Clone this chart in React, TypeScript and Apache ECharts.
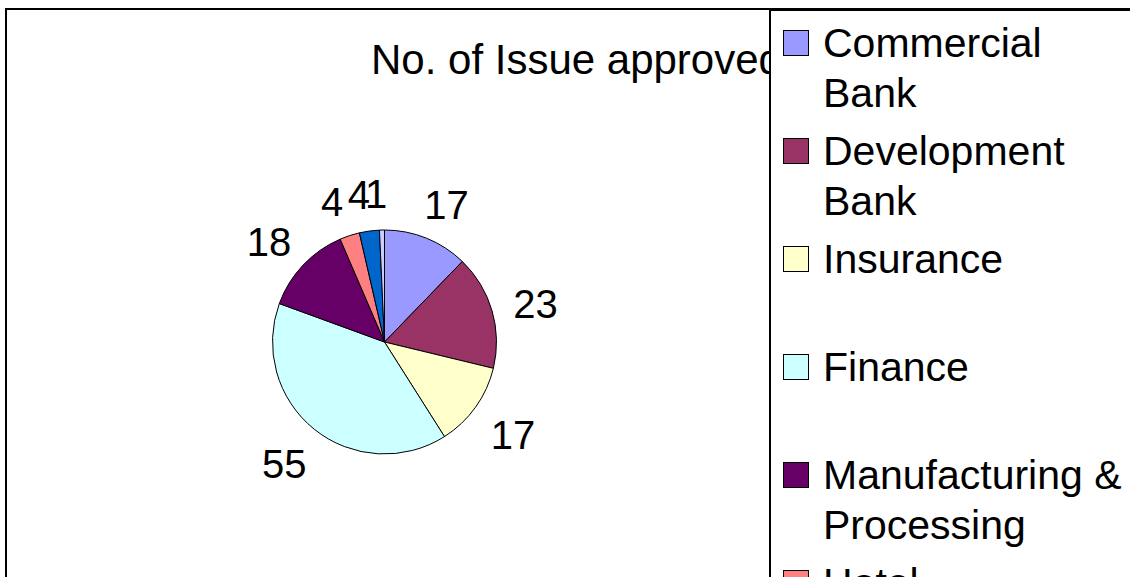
import React, { useEffect, useRef } from "react";
import * as echarts from "echarts";

const titleText = "No. of Issue approved";
const categories = [
  "Commercial Bank",
  "Development Bank",
  "Insurance",
  "Finance",
  "Manufacturing & Processing",
  "Hotel",
  "Trading",
  "Others",
];
const legendLabels = [
  "Commercial\nBank",
  "Development\nBank",
  "Insurance",
  "Finance",
  "Manufacturing &\nProcessing",
  "Hotel",
  "Trading",
  "Others",
];
const values = [17, 23, 17, 55, 18, 4, 4, 1];
const colors = ["#9999FF", "#993366", "#FFFFCC", "#CCFFFF", "#660066", "#FF8080", "#0066CC", "#CCCCFF"];

const FONT = "'Liberation Sans', Arial, sans-serif";

export default function App() {
  const ref = useRef<HTMLDivElement>(null);
  useEffect(() => {
    document.body.style.margin = "0";
    if (!ref.current) return;
    const chart = echarts.init(ref.current, null, { renderer: "svg" });
    const rich: Record<string, any> = {
      g: { width: 15, height: 24 },
      s: { width: 39, height: 24 },
      t: { fontSize: 41, fontFamily: FONT, color: "#000", lineHeight: 50 },
    };
    colors.forEach((c, i) => {
      rich["m" + i] = {
        width: 24,
        height: 24,
        backgroundColor: c,
        borderColor: "#000",
        borderWidth: 1,
      };
    });
    const data = categories.map((name, i) => ({
      name,
      value: values[i],
      itemStyle: { color: colors[i] },
    }));
    chart.setOption({
      animation: false,
      title: {
        text: titleText,
        left: 371,
        top: 38,
        padding: 0,
        z: 1,
        textStyle: {
          fontSize: 42,
          fontFamily: FONT,
          fontWeight: "normal",
          color: "#000",
          lineHeight: 42,
        },
      },
      legend: {
        orient: "vertical",
        left: 770,
        top: 10,
        height: 1200,
        z: 20,
        padding: [8, 40, 8, 8],
        itemGap: 8,
        itemWidth: 0,
        itemHeight: 0,
        backgroundColor: "#fff",
        borderColor: "#000",
        borderWidth: 2,
        borderRadius: 0,
        selectedMode: false,
        data: categories,
        formatter: (name: string) => {
          const i = categories.indexOf(name);
          const lines = legendLabels[i].split("\n");
          const first = `{m${i}|}{g|}{t|${lines[0]}}`;
          const second = lines.length > 1 ? `{s|}{t|${lines[1]}}` : `{s|}{t| }`;
          return first + "\n" + second;
        },
        textStyle: { rich, fontSize: 41, fontFamily: FONT, color: "#000", lineHeight: 50 },
      },
      graphic: [
        {
          type: "rect",
          z: 30,
          silent: true,
          shape: { x: 6, y: 9, width: 1400, height: 800 },
          style: { fill: "none", stroke: "#000", lineWidth: 2 },
        },
      ],
      series: [
        {
          type: "pie",
          center: [384.5, 342],
          radius: 112,
          startAngle: 90,
          clockwise: true,
          avoidLabelOverlap: false,
          data,
          label: {
            show: true,
            position: "outside",
            alignTo: "none",
            formatter: "{c}",
            fontSize: 40,
            fontFamily: FONT,
            color: "#000",
          },
          labelLine: { show: false, length: 40, length2: 0 },
          labelLayout: () => ({ align: "center", verticalAlign: "middle", dy: 4 }),
          itemStyle: { borderColor: "#000", borderWidth: 1 },
          emphasis: { disabled: true },
          silent: true,
        },
      ],
    });
    return () => chart.dispose();
  }, []);
  return <div ref={ref} style={{ width: 1130, height: 577 }} />;
}
